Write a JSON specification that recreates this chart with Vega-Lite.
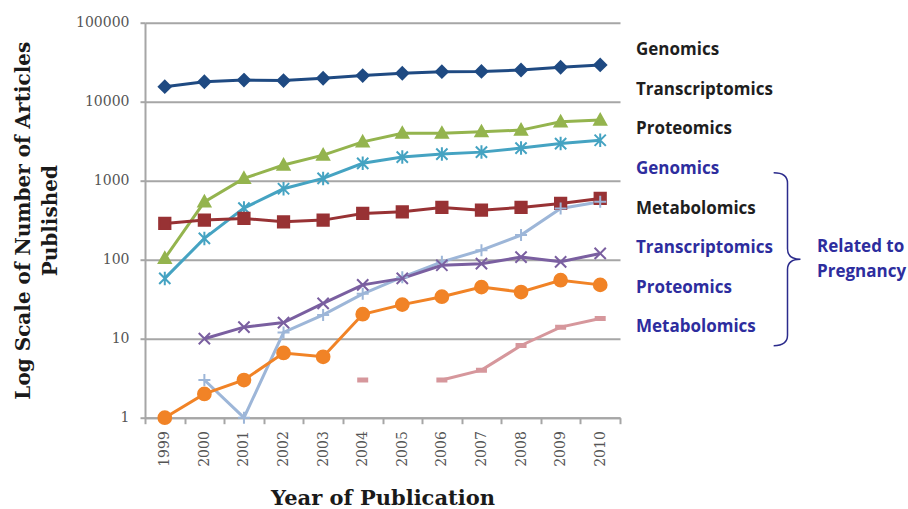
{
  "$schema": "https://vega.github.io/schema/vega-lite/v6.json",
  "width": 475,
  "height": 395,
  "autosize": {"type": "none"},
  "padding": {"left": 145, "top": 22.7, "right": 288, "bottom": 91.3},
  "background": "white",
  "config": {"view": {"stroke": null}},
  "data": {"values": [
    {"year": "1999", "series": "Genomics", "group": "All", "n": 15500},
    {"year": "2000", "series": "Genomics", "group": "All", "n": 17900},
    {"year": "2001", "series": "Genomics", "group": "All", "n": 18800},
    {"year": "2002", "series": "Genomics", "group": "All", "n": 18500},
    {"year": "2003", "series": "Genomics", "group": "All", "n": 19800},
    {"year": "2004", "series": "Genomics", "group": "All", "n": 21400},
    {"year": "2005", "series": "Genomics", "group": "All", "n": 22900},
    {"year": "2006", "series": "Genomics", "group": "All", "n": 24000},
    {"year": "2007", "series": "Genomics", "group": "All", "n": 24200},
    {"year": "2008", "series": "Genomics", "group": "All", "n": 25200},
    {"year": "2009", "series": "Genomics", "group": "All", "n": 27300},
    {"year": "2010", "series": "Genomics", "group": "All", "n": 29200},

    {"year": "1999", "series": "Transcriptomics", "group": "All", "n": 104},
    {"year": "2000", "series": "Transcriptomics", "group": "All", "n": 540},
    {"year": "2001", "series": "Transcriptomics", "group": "All", "n": 1070},
    {"year": "2002", "series": "Transcriptomics", "group": "All", "n": 1580},
    {"year": "2003", "series": "Transcriptomics", "group": "All", "n": 2110},
    {"year": "2004", "series": "Transcriptomics", "group": "All", "n": 3100},
    {"year": "2005", "series": "Transcriptomics", "group": "All", "n": 3990},
    {"year": "2006", "series": "Transcriptomics", "group": "All", "n": 3990},
    {"year": "2007", "series": "Transcriptomics", "group": "All", "n": 4170},
    {"year": "2008", "series": "Transcriptomics", "group": "All", "n": 4370},
    {"year": "2009", "series": "Transcriptomics", "group": "All", "n": 5570},
    {"year": "2010", "series": "Transcriptomics", "group": "All", "n": 5860},

    {"year": "1999", "series": "Proteomics", "group": "All", "n": 58},
    {"year": "2000", "series": "Proteomics", "group": "All", "n": 186},
    {"year": "2001", "series": "Proteomics", "group": "All", "n": 450},
    {"year": "2002", "series": "Proteomics", "group": "All", "n": 790},
    {"year": "2003", "series": "Proteomics", "group": "All", "n": 1070},
    {"year": "2004", "series": "Proteomics", "group": "All", "n": 1660},
    {"year": "2005", "series": "Proteomics", "group": "All", "n": 1990},
    {"year": "2006", "series": "Proteomics", "group": "All", "n": 2170},
    {"year": "2007", "series": "Proteomics", "group": "All", "n": 2300},
    {"year": "2008", "series": "Proteomics", "group": "All", "n": 2590},
    {"year": "2009", "series": "Proteomics", "group": "All", "n": 2950},
    {"year": "2010", "series": "Proteomics", "group": "All", "n": 3250},

    {"year": "1999", "series": "Genomics (Pregnancy)", "group": "Related to Pregnancy", "n": 288},
    {"year": "2000", "series": "Genomics (Pregnancy)", "group": "Related to Pregnancy", "n": 317},
    {"year": "2001", "series": "Genomics (Pregnancy)", "group": "Related to Pregnancy", "n": 333},
    {"year": "2002", "series": "Genomics (Pregnancy)", "group": "Related to Pregnancy", "n": 302},
    {"year": "2003", "series": "Genomics (Pregnancy)", "group": "Related to Pregnancy", "n": 317},
    {"year": "2004", "series": "Genomics (Pregnancy)", "group": "Related to Pregnancy", "n": 385},
    {"year": "2005", "series": "Genomics (Pregnancy)", "group": "Related to Pregnancy", "n": 404},
    {"year": "2006", "series": "Genomics (Pregnancy)", "group": "Related to Pregnancy", "n": 458},
    {"year": "2007", "series": "Genomics (Pregnancy)", "group": "Related to Pregnancy", "n": 424},
    {"year": "2008", "series": "Genomics (Pregnancy)", "group": "Related to Pregnancy", "n": 458},
    {"year": "2009", "series": "Genomics (Pregnancy)", "group": "Related to Pregnancy", "n": 515},
    {"year": "2010", "series": "Genomics (Pregnancy)", "group": "Related to Pregnancy", "n": 597},

    {"year": "2000", "series": "Metabolomics", "group": "All", "n": 3},
    {"year": "2001", "series": "Metabolomics", "group": "All", "n": 1},
    {"year": "2002", "series": "Metabolomics", "group": "All", "n": 12},
    {"year": "2003", "series": "Metabolomics", "group": "All", "n": 20},
    {"year": "2004", "series": "Metabolomics", "group": "All", "n": 37},
    {"year": "2005", "series": "Metabolomics", "group": "All", "n": 60},
    {"year": "2006", "series": "Metabolomics", "group": "All", "n": 94},
    {"year": "2007", "series": "Metabolomics", "group": "All", "n": 132},
    {"year": "2008", "series": "Metabolomics", "group": "All", "n": 205},
    {"year": "2009", "series": "Metabolomics", "group": "All", "n": 445},
    {"year": "2010", "series": "Metabolomics", "group": "All", "n": 540},

    {"year": "2000", "series": "Transcriptomics (Pregnancy)", "group": "Related to Pregnancy", "n": 10},
    {"year": "2001", "series": "Transcriptomics (Pregnancy)", "group": "Related to Pregnancy", "n": 14},
    {"year": "2002", "series": "Transcriptomics (Pregnancy)", "group": "Related to Pregnancy", "n": 16},
    {"year": "2003", "series": "Transcriptomics (Pregnancy)", "group": "Related to Pregnancy", "n": 28},
    {"year": "2004", "series": "Transcriptomics (Pregnancy)", "group": "Related to Pregnancy", "n": 48},
    {"year": "2005", "series": "Transcriptomics (Pregnancy)", "group": "Related to Pregnancy", "n": 58},
    {"year": "2006", "series": "Transcriptomics (Pregnancy)", "group": "Related to Pregnancy", "n": 85},
    {"year": "2007", "series": "Transcriptomics (Pregnancy)", "group": "Related to Pregnancy", "n": 89},
    {"year": "2008", "series": "Transcriptomics (Pregnancy)", "group": "Related to Pregnancy", "n": 108},
    {"year": "2009", "series": "Transcriptomics (Pregnancy)", "group": "Related to Pregnancy", "n": 94},
    {"year": "2010", "series": "Transcriptomics (Pregnancy)", "group": "Related to Pregnancy", "n": 120},

    {"year": "1999", "series": "Proteomics (Pregnancy)", "group": "Related to Pregnancy", "n": 1},
    {"year": "2000", "series": "Proteomics (Pregnancy)", "group": "Related to Pregnancy", "n": 2},
    {"year": "2001", "series": "Proteomics (Pregnancy)", "group": "Related to Pregnancy", "n": 3},
    {"year": "2002", "series": "Proteomics (Pregnancy)", "group": "Related to Pregnancy", "n": 6.6},
    {"year": "2003", "series": "Proteomics (Pregnancy)", "group": "Related to Pregnancy", "n": 5.9},
    {"year": "2004", "series": "Proteomics (Pregnancy)", "group": "Related to Pregnancy", "n": 20.4},
    {"year": "2005", "series": "Proteomics (Pregnancy)", "group": "Related to Pregnancy", "n": 27},
    {"year": "2006", "series": "Proteomics (Pregnancy)", "group": "Related to Pregnancy", "n": 34},
    {"year": "2007", "series": "Proteomics (Pregnancy)", "group": "Related to Pregnancy", "n": 45},
    {"year": "2008", "series": "Proteomics (Pregnancy)", "group": "Related to Pregnancy", "n": 39},
    {"year": "2009", "series": "Proteomics (Pregnancy)", "group": "Related to Pregnancy", "n": 55},
    {"year": "2010", "series": "Proteomics (Pregnancy)", "group": "Related to Pregnancy", "n": 48},

    {"year": "2004", "series": "Metabolomics (Pregnancy)", "group": "Related to Pregnancy", "n": 3},
    {"year": "2005", "series": "Metabolomics (Pregnancy)", "group": "Related to Pregnancy", "n": null},
    {"year": "2006", "series": "Metabolomics (Pregnancy)", "group": "Related to Pregnancy", "n": 3},
    {"year": "2007", "series": "Metabolomics (Pregnancy)", "group": "Related to Pregnancy", "n": 4},
    {"year": "2008", "series": "Metabolomics (Pregnancy)", "group": "Related to Pregnancy", "n": 8.2},
    {"year": "2009", "series": "Metabolomics (Pregnancy)", "group": "Related to Pregnancy", "n": 14},
    {"year": "2010", "series": "Metabolomics (Pregnancy)", "group": "Related to Pregnancy", "n": 18}
  ]},
  "encoding": {
    "x": {
      "field": "year", "type": "ordinal", "bandPosition": 0.5,
      "scale": {"type": "band", "paddingInner": 0, "paddingOuter": 0},
      "axis": {
        "title": "Year of Publication",
        "titleFont": "DejaVu Serif", "titleFontSize": 21, "titleFontWeight": "bold", "titleColor": "#1a1a1a", "titlePadding": 21,
        "labelAngle": 270, "labelAlign": "right", "labelBaseline": "middle",
        "labelFont": "DejaVu Serif", "labelFontSize": 14, "labelColor": "#555555", "labelPadding": 7,
        "tickBand": "extent", "tickSize": 6, "tickColor": "#a6a6a6", "tickWidth": 2,
        "domainColor": "#a6a6a6", "domainWidth": 2, "grid": false
      }
    },
    "y": {
      "field": "n", "type": "quantitative",
      "scale": {"type": "log", "domain": [1, 100000], "nice": false},
      "axis": {
        "title": ["Log Scale of Number of Articles", "Published"],
        "titleFont": "DejaVu Serif", "titleFontSize": 20, "titleFontWeight": "bold", "titleColor": "#1a1a1a", "titleLineHeight": 27, "titlePadding": 15,
        "values": [1, 10, 100, 1000, 10000, 100000], "format": "d",
        "labelFont": "DejaVu Serif", "labelFontSize": 14, "labelColor": "#555555", "labelPadding": 11,
        "tickSize": 5, "tickColor": "#a6a6a6", "tickWidth": 2,
        "grid": true, "gridColor": "#a6a6a6", "gridWidth": 2,
        "domainColor": "#a6a6a6", "domainWidth": 2
      }
    },
    "color": {
      "field": "series", "type": "nominal",
      "scale": {
        "domain": ["Genomics", "Transcriptomics", "Proteomics", "Genomics (Pregnancy)", "Metabolomics", "Transcriptomics (Pregnancy)", "Proteomics (Pregnancy)", "Metabolomics (Pregnancy)"],
        "range": ["#1f4a82", "#94b44e", "#45a3c2", "#983234", "#9db6d8", "#7a5fa0", "#f18326", "#d6979c"]
      },
      "legend": {
        "orient": "none", "legendX": 474, "legendY": 19, "title": null, "padding": 0,
        "symbolSize": 0, "symbolOpacity": 0, "symbolStrokeWidth": 0, "labelOffset": 0,
        "labelFont": "Open Sans", "labelFontWeight": "bold", "labelFontSize": 17, "labelLimit": 300,
        "rowPadding": 21.6,
        "labelExpr": "replace(datum.label, ' (Pregnancy)', '')",
        "encode": {"labels": {"update": {"fill": {"signal": "indexof(datum.value, 'Pregnancy') >= 0 ? '#2d2d9e' : '#1e1e1e'"}}}}
      }
    }
  },
  "layer": [
    {
      "mark": {"type": "line", "strokeWidth": 3, "invalid": "break-paths-filter-domains"},
      "encoding": {
        "opacity": {
          "field": "group", "type": "ordinal",
          "scale": {"domain": ["Related to Pregnancy", "All"], "range": [1, 1]},
          "legend": {
            "orient": "none", "legendX": 555, "legendY": 149, "title": null, "padding": 0,
            "values": ["Related to Pregnancy"],
            "symbolType": "M-0.16,-1Q0,-1,0,-0.88L0,-0.12Q0,0,0.15,0Q0,0,0,0.12L0,0.88Q0,1,-0.16,1",
            "symbolSize": 29929, "symbolStrokeColor": "#2b2b8c", "symbolFillColor": "transparent", "symbolStrokeWidth": 1.5,
            "labelExpr": "['Related to', 'Pregnancy']",
            "labelFont": "Open Sans", "labelFontWeight": "bold", "labelFontSize": 17, "labelColor": "#2d2d9e",
            "labelOffset": -58, "labelLimit": 300,
            "encode": {"labels": {"update": {"lineHeight": {"value": 25}, "dy": {"value": -12}}}}
          }
        }
      }
    },
    {
      "mark": {"type": "point", "filled": true, "opacity": 1, "strokeWidth": 2, "size": 225},
      "encoding": {
        "stroke": {
          "field": "series", "type": "nominal", "legend": null,
          "scale": {
            "domain": ["Genomics", "Transcriptomics", "Proteomics", "Genomics (Pregnancy)", "Metabolomics", "Transcriptomics (Pregnancy)", "Proteomics (Pregnancy)", "Metabolomics (Pregnancy)"],
            "range": ["#1f4a82", "#94b44e", "#45a3c2", "#983234", "#9db6d8", "#7a5fa0", "#f18326", "#d6979c"]
          }
        },
        "shape": {
          "field": "series", "type": "nominal", "legend": null,
          "scale": {
            "domain": ["Genomics", "Transcriptomics", "Proteomics", "Genomics (Pregnancy)", "Metabolomics", "Transcriptomics (Pregnancy)", "Proteomics (Pregnancy)", "Metabolomics (Pregnancy)"],
            "range": [
              "M0,-0.8L0.8,0L0,0.8L-0.8,0Z",
              "M0,-0.8L0.8,0.62L-0.8,0.62Z",
              "M-0.75,-0.75L0.75,0.75M-0.75,0.75L0.75,-0.75M0,-0.9L0,0.9",
              "M-0.75,-0.75L0.75,-0.75L0.75,0.75L-0.75,0.75Z",
              "M-0.8,0L0.8,0M0,-0.8L0,0.8",
              "M-0.75,-0.75L0.75,0.75M-0.75,0.75L0.75,-0.75",
              "M-0.85,0A0.85,0.85,0,1,1,0.85,0A0.85,0.85,0,1,1,-0.85,0Z",
              "M-0.6,-0.2L0.6,-0.2L0.6,0.2L-0.6,0.2Z"
            ]
          }
        }
      }
    }
  ]
}
